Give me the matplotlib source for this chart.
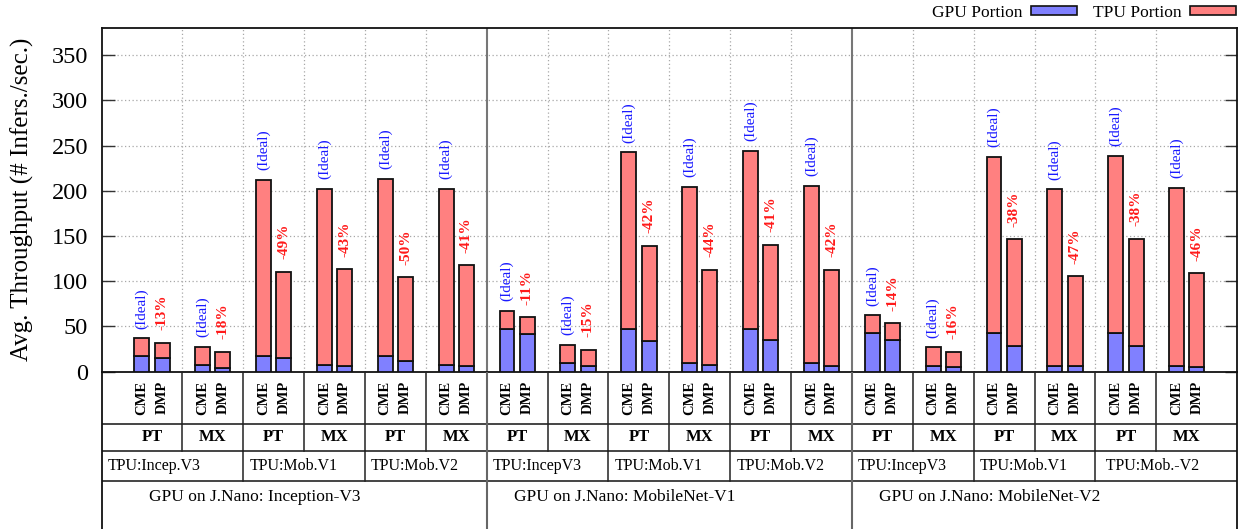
import matplotlib
matplotlib.use("Agg")
import matplotlib.pyplot as plt
from matplotlib.patches import Patch
import numpy as np

plt.rcParams['font.family'] = ['Liberation Serif', 'DejaVu Serif']

# ---------------- data ----------------
gpu_models = ["Inception-V3", "MobileNet-V1", "MobileNet-V2"]
tpu_labels = ["TPU:Incep.V3", "TPU:Mob.V1", "TPU:Mob.V2",
              "TPU:IncepV3", "TPU:Mob.V1", "TPU:Mob.V2",
              "TPU:IncepV3", "TPU:Mob.V1", " TPU:Mob.-V2"]
frameworks = ["PT", "MX"]
schemes = ["CME", "DMP"]

cme_total = [36.7, 27.0, 211.9, 201.9, 213.0, 201.9,
             67.4, 29.3, 242.6, 204.0, 244.0, 205.6,
             62.2, 26.7, 237.4, 201.5, 238.5, 203.0]
cme_gpu = [16.7, 7.0, 16.7, 7.0, 17.0, 7.0,
           47.4, 9.3, 47.4, 9.3, 47.4, 9.3,
           42.6, 6.7, 42.6, 6.7, 42.6, 6.7]
dmp_total = [31.9, 21.9, 110.7, 113.0, 104.4, 117.4,
             60.0, 24.4, 139.3, 112.6, 140.4, 112.6,
             53.3, 22.2, 146.3, 105.2, 146.7, 108.5]
dmp_gpu = [14.8, 3.7, 15.2, 6.3, 12.2, 6.3,
           41.5, 6.7, 34.1, 7.0, 34.8, 6.3,
           34.8, 5.2, 28.1, 5.9, 28.5, 5.2]
pct_labels = ["-13%", "-18%", "-49%", "-43%", "-50%", "-41%",
              "-11%", "-15%", "-42%", "-44%", "-41%", "-42%",
              "-14%", "-16%", "-38%", "-47%", "-38%", "-46%"]
ideal_label = "(Ideal)"
ylabel = "Avg. Throughput (# Infers./sec.)"
yticks = [0, 50, 100, 150, 200, 250, 300, 350]

# ---------------- style ----------------
BLUE = "#8080ff"
RED = "#ff8080"
W, H = 1241, 529
n = len(cme_total)
x = np.arange(n)
xlim = (-0.82, n - 1 + 0.82)
bw = 0.246
off = 0.167

fig = plt.figure(figsize=(W / 100, H / 100), dpi=100)
ax_l, ax_r = 102 / W, 1236.7 / W
ax_top, ax_bot = 28 / H, 371.6 / H
ax = fig.add_axes([ax_l, 1 - ax_bot, ax_r - ax_l, ax_bot - ax_top])

cme_tpu = np.array(cme_total) - np.array(cme_gpu)
dmp_tpu = np.array(dmp_total) - np.array(dmp_gpu)

ec = "#111111"
lw = 1.3
ax.bar(x - off, cme_gpu, bw, color=BLUE, edgecolor=ec, linewidth=lw, zorder=3)
ax.bar(x - off, cme_tpu, bw, bottom=cme_gpu, color=RED, edgecolor=ec, linewidth=lw, zorder=3)
ax.bar(x + off, dmp_gpu, bw, color=BLUE, edgecolor=ec, linewidth=lw, zorder=3)
ax.bar(x + off, dmp_tpu, bw, bottom=dmp_gpu, color=RED, edgecolor=ec, linewidth=lw, zorder=3)

for i in range(n):
    ax.annotate(ideal_label, xy=(x[i] - off, cme_total[i]), xytext=(0, 7),
                textcoords="offset points", rotation=90, ha="center", va="bottom",
                color="#1a1aff", fontsize=11, zorder=4)
    ax.annotate(pct_labels[i], xy=(x[i] + off, dmp_total[i]), xytext=(0, 9),
                textcoords="offset points", rotation=90, ha="center", va="bottom",
                color="#ff1a1a", fontsize=11, fontweight="bold", zorder=4)

ax.set_xlim(*xlim)
ax.set_ylim(0, 380)
ax.set_yticks(yticks)
ax.set_xticks([])
ax.tick_params(axis="y", direction="in", length=9, width=1.0, color="#333333",
               labelsize=17.5, pad=10, right=True, left=True)
ax.set_ylabel(ylabel, fontsize=18, labelpad=13)

# grid
for yv in yticks[1:]:
    ax.axhline(yv, color="#a8a8a8", lw=0.9, ls=(0, (1, 2)), zorder=1)
sections = [5.5, 11.5]
for b in np.arange(0.5, n - 1, 1.0):
    if b in sections:
        ax.axvline(b, color="#777777", lw=1.5, zorder=1)
    else:
        ax.axvline(b, color="#a8a8a8", lw=0.9, ls=(0, (1, 2)), zorder=1)

for s in ax.spines.values():
    s.set_linewidth(1.3)
    s.set_color("#111111")

# ---------------- table below ----------------
axt = fig.add_axes([ax_l, 0, ax_r - ax_l, 1 - ax_bot])
axt.set_xlim(*xlim)
axt.set_ylim(1, 0)
axt.set_xticks([])
axt.set_yticks([])
axt.patch.set_alpha(0)
for side in ["top", "bottom"]:
    axt.spines[side].set_visible(False)
for side in ["left", "right"]:
    axt.spines[side].set_linewidth(1.3)
    axt.spines[side].set_color("#111111")

tbl_h = H - 371.6
rows = [0, (424 - 371.6) / tbl_h, (450.7 - 371.6) / tbl_h, (481.3 - 371.6) / tbl_h, 1.0]
lc = "#222222"
for r in rows[1:4]:
    axt.axhline(r, color="#444444", lw=1.4)
# rows 0-1: cluster boundaries
for b in np.arange(0.5, n - 1, 1.0):
    if b in sections:
        continue
    axt.plot([b, b], [rows[0], rows[2]], color=lc, lw=1.1)
# row 2: TPU boundaries
for b in np.arange(1.5, n - 1, 2.0):
    if b in sections:
        continue
    axt.plot([b, b], [rows[2], rows[3]], color=lc, lw=1.1)
for b in sections:
    axt.plot([b, b], [0, 1], color="#666666", lw=1.5)

# texts
for i in range(n):
    axt.text(x[i] - off, (rows[0] + rows[1]) / 2, schemes[0], rotation=90,
             ha="center", va="center", fontsize=10.5, fontweight="bold")
    axt.text(x[i] + off, (rows[0] + rows[1]) / 2, schemes[1], rotation=90,
             ha="center", va="center", fontsize=10.5, fontweight="bold")
    axt.text(x[i], (rows[1] + rows[2]) / 2, frameworks[i % 2],
             ha="center", va="center", fontsize=12, fontweight="bold")

for k, lab in enumerate(tpu_labels):
    left = xlim[0] if k == 0 else 2 * k - 0.5
    axt.text(left + 0.1, (rows[2] + rows[3]) / 2, lab, ha="left", va="center",
             fontsize=11.5)

for k, g in enumerate(gpu_models):
    left = 6 * k - 0.5
    axt.text(left + 0.45, rows[3] + 0.10, "GPU on J.Nano: " + g, ha="left",
             va="center", fontsize=12.5)

# legend
handles = [Patch(facecolor=BLUE, edgecolor=ec, linewidth=1.2, label="GPU Portion"),
           Patch(facecolor=RED, edgecolor=ec, linewidth=1.2, label="TPU Portion")]
fig.legend(handles=handles, loc="center right", bbox_to_anchor=(1236 / W, 1 - 13 / H),
           ncol=2, frameon=False, fontsize=12.5, markerfirst=False,
           handlelength=2.65, handleheight=0.45, handletextpad=0.5,
           columnspacing=0.9, borderpad=0, borderaxespad=0)

fig.savefig("out.png", dpi=100)
